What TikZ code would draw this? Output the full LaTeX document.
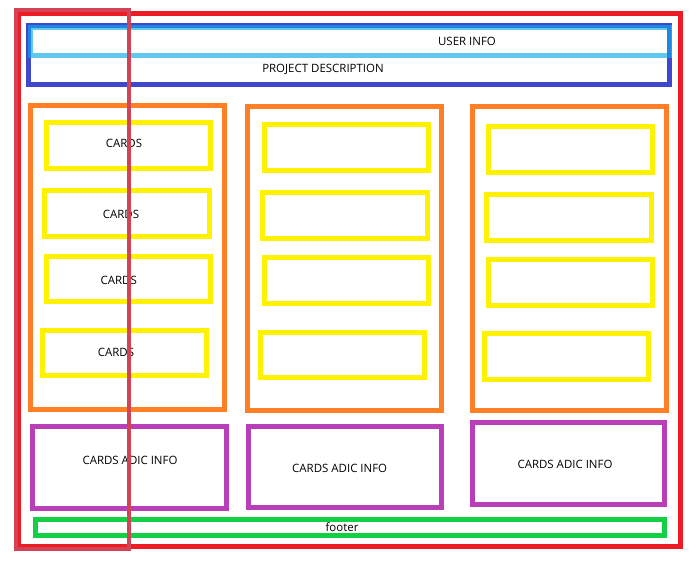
\documentclass[tikz,border=0pt]{standalone}
\usepackage{fontspec}
\setmainfont{Open Sans}
\usepackage{tikz}
\definecolor{pagered}{HTML}{ED1C24}
\definecolor{markred}{HTML}{D24455}
\definecolor{headblue}{HTML}{3F48CC}
\definecolor{userblue}{HTML}{60C8F0}
\definecolor{mixblue}{HTML}{1E88E0}
\definecolor{colorange}{HTML}{FF7F27}
\definecolor{cardyellow}{HTML}{FFF200}
\definecolor{infopurple}{HTML}{B83FB8}
\definecolor{footgreen}{HTML}{12CF44}

\begin{document}
\begin{tikzpicture}[x=0.75pt,y=-0.75pt,
box/.style={line width=3.75pt},
page/.style={box,draw=pagered},
header/.style={box,draw=headblue},
userbar/.style={box,draw=userblue},
column/.style={box,draw=colorange},
card/.style={box,draw=cardyellow},
info/.style={box,draw=infopurple},
footbar/.style={box,draw=footgreen},
marker/.style={line width=3pt,draw=markred},
every node/.style={font=\fontsize{8.6pt}{10pt}\selectfont,
text height=6.15pt,text depth=0pt,inner sep=0pt}]
\useasboundingbox (0,0) rectangle (696,564);

% page and header
\draw[page] (18.5,13) rectangle (680.5,546.5);
\draw[header] (28.5,25.5) rectangle (669.5,84.5);
\draw[userbar] (30.5,27.5) rectangle (669,55);
\begin{scope}
\clip (28,25) rectangle (671.5,57.5);
\draw[header,draw=mixblue] (28.5,25.5) rectangle (669.5,84.5);
\end{scope}
\node (user) at (467,41) {USER INFO};
\node (project) at (323,68.5) {PROJECT DESCRIPTION};

% columns
\draw[column] (30,105) rectangle (224,409);
\draw[column] (247,106) rectangle (441,410);
\draw[column] (472,106) rectangle (666,410);

% cards
\draw[card] (46,122) rectangle (210,168);
\draw[card] (44,190) rectangle (209,236);
\draw[card] (46,256) rectangle (210,301);
\draw[card] (42,330) rectangle (206,375);
\draw[card] (264,124) rectangle (428,170);
\draw[card] (262,192) rectangle (427,238);
\draw[card] (264,257) rectangle (428,303);
\draw[card] (260,332) rectangle (424,377);
\draw[card] (488,126) rectangle (652,172);
\draw[card] (486,194) rectangle (651,240);
\draw[card] (488,259) rectangle (652,305);
\draw[card] (484,333) rectangle (648,379);
\node (card1) at (124,143) {CARDS};
\node (card2) at (121,214.5) {CARDS};
\node (card3) at (118.7,280.5) {CARDS};
\node (card4) at (116,352.5) {CARDS};

% extra info
\draw[info] (32,426) rectangle (226,508);
\draw[info] (248,426) rectangle (441,507);
\draw[info] (472,422) rectangle (664,504);
\node (info1) at (130,460) {CARDS ADIC INFO};
\node (info2) at (339.7,468) {CARDS ADIC INFO};
\node (info3) at (565,464) {CARDS ADIC INFO};

% footer
\draw[footbar] (35.5,519.5) rectangle (664.5,535);
\node (footer) at (342,527.5) {footer};

% marker on top
\draw[marker] (16,9.5) rectangle (128.5,549);
\end{tikzpicture}
\end{document}
